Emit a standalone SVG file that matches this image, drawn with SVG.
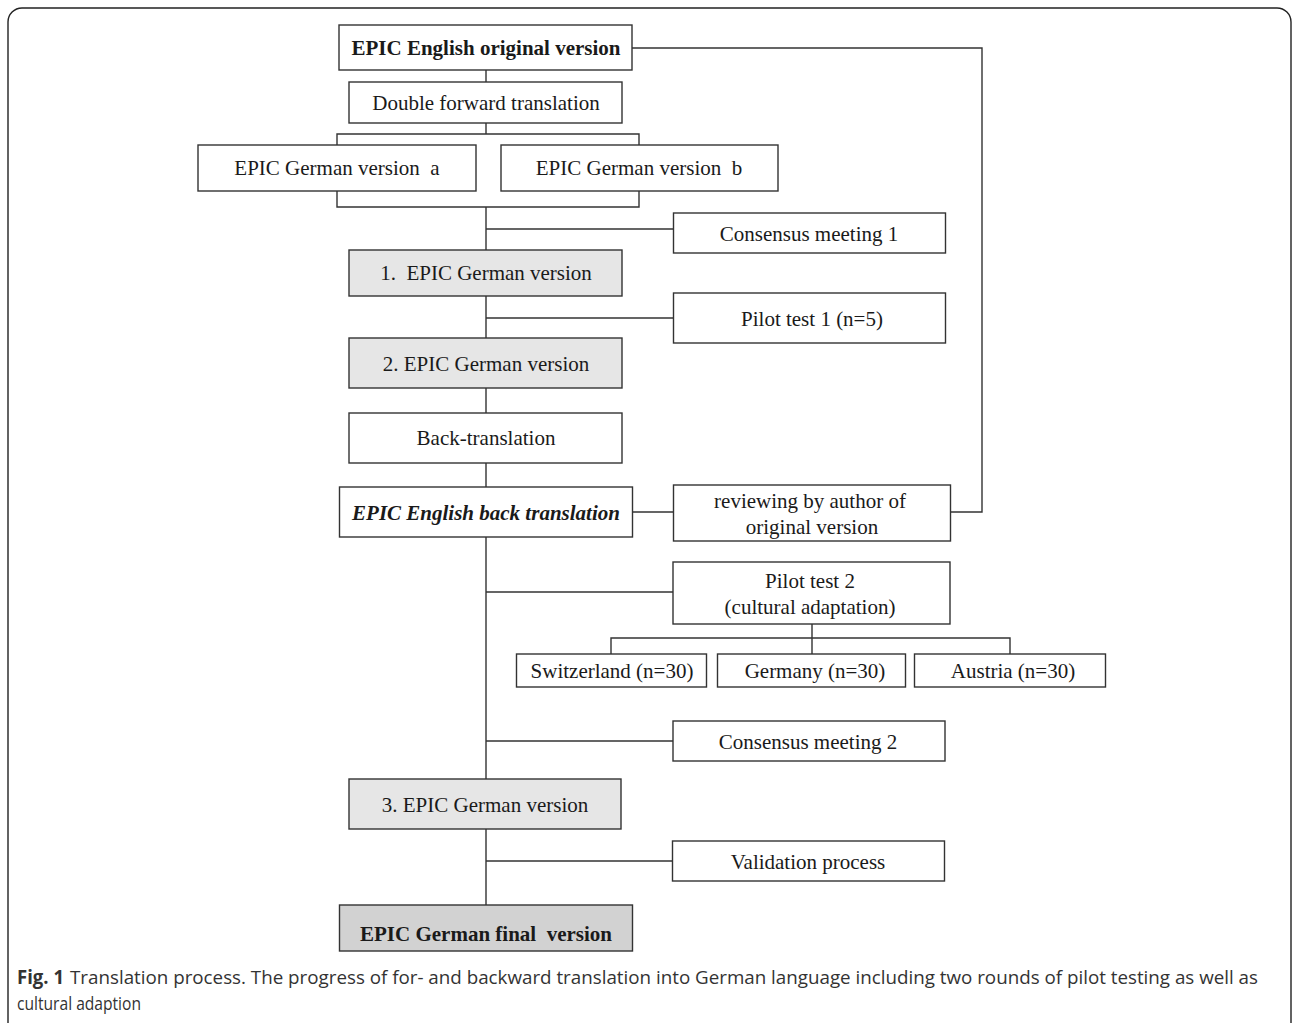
<svg xmlns="http://www.w3.org/2000/svg" width="1292" height="1023" viewBox="0 0 1292 1023">
<style>
.box{fill:#fff;stroke:#333;stroke-width:1.4}
.g1{fill:#e6e6e6}
.g2{fill:#d2d2d2}
.t{font-family:"Liberation Serif","Times New Roman",serif;font-size:21px;fill:#1a1a1a;text-anchor:middle;white-space:pre}
.b{font-weight:bold}
.i{font-style:italic;font-weight:bold}
.c{fill:none;stroke:#333;stroke-width:1.4}
.cap{font-family:"Open Sans","Noto Sans",sans-serif;font-size:19px;fill:#333}
</style>
<rect x="8" y="8" width="1283" height="1030" rx="14" fill="none" stroke="#222" stroke-width="1.4"/>
<g id="connectors" class="c">
<path d="M486 70V82M486 123V134M337 145V134H639V145M337 191V207H639V191M486 207V250M486 229H673M486 296V338M486 318H673M486 388V413M486 463V487M632 512H673.5M950.5 512H982V48H632M486 537V779M486 592H673M486 741H673M812 624V654M611 654V638H1010V654M486 829V905M486 861H672"/>
</g>
<g id="n-english-original"><rect class="box" x="339" y="25" width="293" height="45"/><text class="t b" x="486" y="55">EPIC English original version</text></g>
<g id="n-double-forward"><rect class="box" x="349" y="82" width="273" height="41"/><text class="t" x="486" y="110">Double forward translation</text></g>
<g id="n-german-a"><rect class="box" x="198" y="145" width="278" height="46"/><text class="t" x="337" y="175">EPIC German version  a</text></g>
<g id="n-german-b"><rect class="box" x="501" y="145" width="277" height="46"/><text class="t" x="639" y="175">EPIC German version  b</text></g>
<g id="n-consensus1"><rect class="box" x="673.5" y="213" width="272" height="40"/><text class="t" x="809" y="241">Consensus meeting 1</text></g>
<g id="n-german1"><rect class="box g1" x="349" y="250" width="273" height="46"/><text class="t" x="486" y="280">1.  EPIC German version</text></g>
<g id="n-pilot1"><rect class="box" x="673.5" y="293" width="272" height="50"/><text class="t" x="812" y="326">Pilot test 1 (n=5)</text></g>
<g id="n-german2"><rect class="box g1" x="349" y="338" width="273" height="50"/><text class="t" x="486" y="371">2. EPIC German version</text></g>
<g id="n-back"><rect class="box" x="349" y="413" width="273" height="50"/><text class="t" x="486" y="445">Back-translation</text></g>
<g id="n-english-back"><rect class="box" x="339.5" y="487" width="293" height="50"/><text class="t i" x="486" y="520">EPIC English back translation</text></g>
<g id="n-reviewing"><rect class="box" x="673.5" y="485" width="277" height="56"/><text class="t" x="810" y="508">reviewing by author of</text><text class="t" x="812" y="534">original version</text></g>
<g id="n-pilot2"><rect class="box" x="673" y="562" width="277" height="62"/><text class="t" x="810" y="588">Pilot test 2</text><text class="t" x="810" y="614">(cultural adaptation)</text></g>
<g id="n-switzerland"><rect class="box" x="516.5" y="654" width="190" height="33"/><text class="t" x="612" y="678">Switzerland (n=30)</text></g>
<g id="n-germany"><rect class="box" x="717.5" y="654" width="188" height="33"/><text class="t" x="815" y="678">Germany (n=30)</text></g>
<g id="n-austria"><rect class="box" x="914.5" y="654" width="191" height="33"/><text class="t" x="1013" y="678">Austria (n=30)</text></g>
<g id="n-consensus2"><rect class="box" x="673" y="721" width="272" height="40"/><text class="t" x="808" y="749">Consensus meeting 2</text></g>
<g id="n-german3"><rect class="box g1" x="349" y="779" width="272" height="50"/><text class="t" x="485" y="812">3. EPIC German version</text></g>
<g id="n-validation"><rect class="box" x="672.5" y="841" width="272" height="40"/><text class="t" x="808" y="869">Validation process</text></g>
<g id="n-final"><rect class="box g2" x="339.5" y="905" width="293" height="46"/><text class="t b" x="486" y="941">EPIC German final  version</text></g>
<text class="cap" x="17" y="984" font-weight="bold" fill="#222" font-size="21" textLength="47" lengthAdjust="spacingAndGlyphs">Fig. 1</text>
<text class="cap" x="70" y="984" textLength="1188" lengthAdjust="spacingAndGlyphs">Translation process. The progress of for- and backward translation into German language including two rounds of pilot testing as well as</text>
<text class="cap" x="17" y="1010" textLength="124" lengthAdjust="spacingAndGlyphs">cultural adaption</text>
</svg>
